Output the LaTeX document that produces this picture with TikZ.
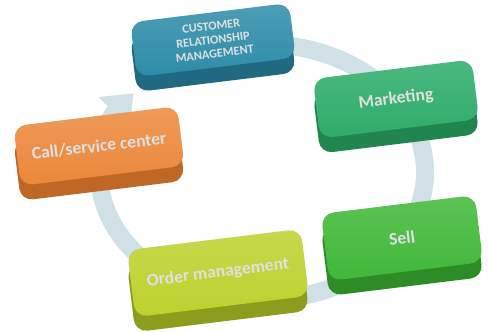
\documentclass[tikz,border=0pt]{standalone}
\usepackage{fontspec}
\setmainfont{Carlito}
\usetikzlibrary{arrows.meta, shadows}

\definecolor{ringblue}{HTML}{CFE0E6}
\definecolor{crmteal}{HTML}{2D8CA8}
\definecolor{crmside}{HTML}{1F6A80}
\definecolor{mktgreen}{HTML}{2DAC69}
\definecolor{mktside}{HTML}{21854F}
\definecolor{sellgreen}{HTML}{40B838}
\definecolor{sellside}{HTML}{2E8C27}
\definecolor{ordyellow}{HTML}{BDD12D}
\definecolor{ordside}{HTML}{8C9C1D}
\definecolor{callorange}{HTML}{EB883B}
\definecolor{callside}{HTML}{BF6826}

\begin{document}
\begin{tikzpicture}

\tikzset{key/.style = {shape=rectangle, rounded corners=0.25cm, rotate=7,
    minimum width=3.2cm, minimum height=1.1cm, align=center,
    font=\bfseries, text=white!88!black}}
\tikzset{side/.style = {drop shadow={shadow xshift=0pt, shadow yshift=-0.3cm, fill=#1, opacity=1}}}
\tikzset{cycle/.style = {draw=ringblue, line width=0.36cm,
    -{Triangle[width=0.85cm,length=0.55cm]}}}

\useasboundingbox (0,0) rectangle (9.8,6.64);

%ring
\coordinate (c) at (5.24,3.20);
\draw[cycle] (c) ++(100:3.26cm and 2.56cm) arc[start angle=100, end angle=-218, x radius=3.26cm, y radius=2.56cm];

%keys
\node[key, side=crmside, top color=crmteal!85!white, bottom color=crmteal, font=\bfseries\scriptsize, inner sep=1pt]
    (crm) at (4.26,5.84) {CUSTOMER\\RELATIONSHIP\\MANAGEMENT};
\node[key, side=mktside, top color=mktgreen!85!white, bottom color=mktgreen, minimum height=1.2cm]
    (mkt) at (7.92,4.66) {Marketing};
\node[key, side=sellside, top color=sellgreen!85!white, bottom color=sellgreen, minimum width=3.1cm, minimum height=1.35cm]
    (sell) at (8.04,1.88) {Sell};
\node[key, side=ordside, top color=ordyellow!85!white, bottom color=ordyellow, minimum width=3.5cm, minimum height=1.35cm]
    (ord) at (4.36,1.18) {Order management};
\node[key, side=callside, top color=callorange!85!white, bottom color=callorange, minimum width=3.3cm, minimum height=1.2cm]
    (call) at (1.98,3.72) {Call/service center};

\end{tikzpicture}
\end{document}
